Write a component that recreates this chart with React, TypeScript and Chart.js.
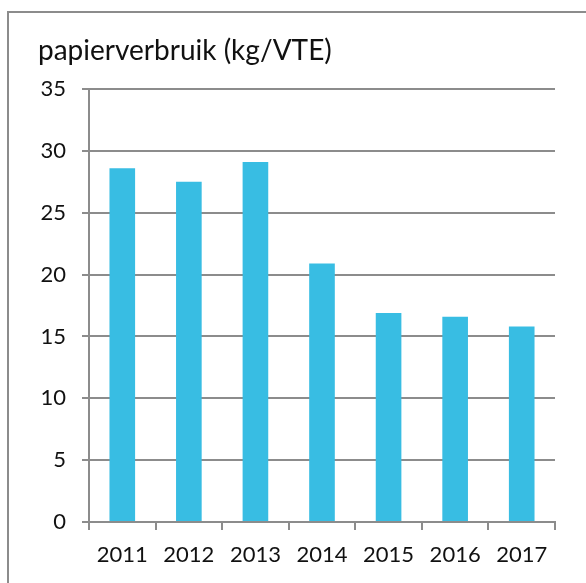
import React, { useEffect, useRef } from "react";
import { Chart, registerables } from "chart.js";

Chart.register(...registerables);

const categories = ["2011", "2012", "2013", "2014", "2015", "2016", "2017"];
const values = [28.6, 27.5, 29.1, 20.9, 16.9, 16.6, 15.8];
const yTicks = [0, 5, 10, 15, 20, 25, 30, 35];
const titleText = "papierverbruik (kg/VTE)";

const GRAY = "#8c8c8c";
const TEXT = "#111111";
const BAR = "#38bde3";

export default function App() {
  const ref = useRef<HTMLCanvasElement | null>(null);

  useEffect(() => {
    if (!ref.current) return;
    const titlePlugin = {
      id: "cornerTitle",
      afterDraw(chart: any) {
        const ctx = chart.ctx;
        ctx.save();
        ctx.font = "28px Lato";
        ctx.fillStyle = TEXT;
        ctx.textBaseline = "alphabetic";
        ctx.textAlign = "left";
        ctx.fillText(titleText, 38, 60);
        ctx.restore();
      },
    };
    const chart = new Chart(ref.current, {
      type: "bar",
      data: {
        labels: categories,
        datasets: [
          {
            data: values,
            backgroundColor: BAR,
            borderWidth: 0,
            barPercentage: 0.385,
            categoryPercentage: 1,
          },
        ],
      },
      options: {
        responsive: false,
        animation: false,
        layout: { padding: { top: 89, right: 31, left: 0, bottom: 0 } },
        plugins: {
          legend: { display: false },
          tooltip: { enabled: false },
          title: { display: false },
        },
        scales: {
          x: {
            offset: true,
            grid: {
              display: true,
              drawOnChartArea: false,
              drawTicks: true,
              tickLength: 8,
              offset: true,
              color: GRAY,
              lineWidth: 2,
            },
            border: { display: true, color: GRAY, width: 2 },
            ticks: {
              font: { family: "Lato", size: 22 },
              color: TEXT,
              padding: 12,
              maxRotation: 0,
            },
            afterFit(s: any) {
              s.height = 61;
            },
          },
          y: {
            min: 0,
            max: 35,
            afterBuildTicks(s: any) {
              s.ticks = yTicks.map((v) => ({ value: v }));
            },
            grid: {
              color: GRAY,
              lineWidth: 2,
              drawTicks: true,
              tickLength: 7,
            },
            border: { display: true, color: GRAY, width: 2 },
            ticks: {
              font: { family: "Lato", size: 22 },
              color: TEXT,
              padding: 16,
            },
            afterFit(s: any) {
              s.width = 89;
            },
          },
        },
      },
      plugins: [titlePlugin],
    });
    return () => chart.destroy();
  }, []);

  return (
    <div
      style={{
        position: "fixed",
        left: 0,
        top: 0,
        width: 586,
        height: 583,
        overflow: "hidden",
        background: "#fff",
      }}
    >
      <div
        style={{
          position: "absolute",
          left: 7,
          top: 11,
          width: 600,
          height: 600,
          borderLeft: `2px solid ${GRAY}`,
          borderTop: `2px solid ${GRAY}`,
        }}
      />
      <canvas
        ref={ref}
        width={586}
        height={583}
        style={{ position: "absolute", left: 0, top: 0, display: "block" }}
      />
    </div>
  );
}
